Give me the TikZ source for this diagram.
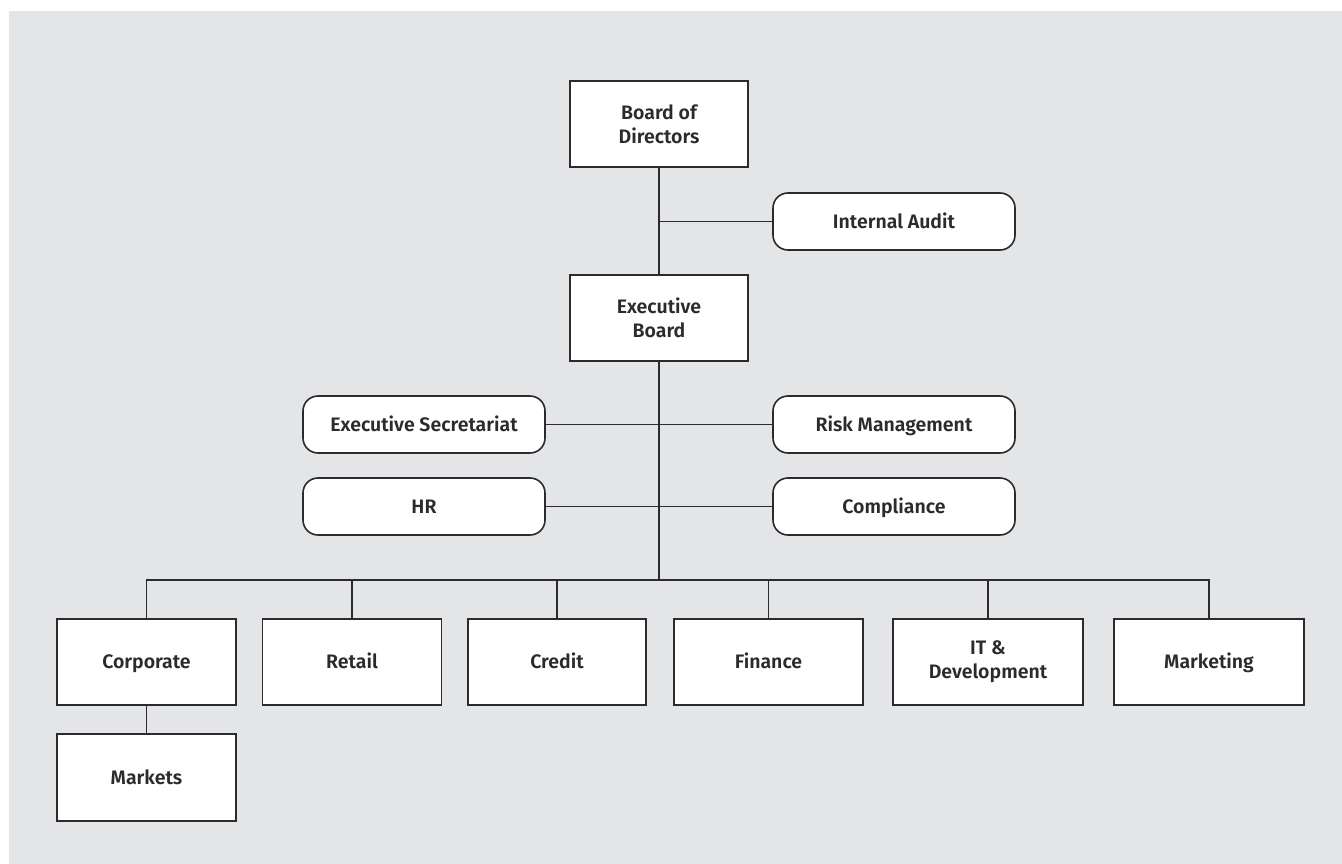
\documentclass[tikz,border=0pt]{standalone}
\usepackage{fontspec}
\setmainfont{Fira Sans}[BoldFont={Fira Sans SemiBold}]
\definecolor{bgc}{RGB}{228,229,231}
\definecolor{ink}{RGB}{43,43,45}
\tikzset{
  unit/.style={draw=ink, line width=1.6pt, fill=white, text=ink, font=\fontsize{19.5}{24}\selectfont\bfseries, align=center, inner sep=0pt},
  sqbox/.style={unit, rectangle, minimum height=86pt},
  oneline/.style={text height=13.4pt, text depth=0pt},
  rbox/.style={unit, oneline, rectangle, rounded corners=15pt, minimum width=242pt, minimum height=57pt},
  link/.style={draw=ink, line width=1.6pt}
}
\begin{document}
\begin{tikzpicture}[x=1pt,y=-1pt]
\useasboundingbox (0,0) rectangle (1342,864);
\fill[bgc] (9,11) rectangle (1342,864);
\node[sqbox, minimum width=178pt] (bod) at (659,124) {Board of\\Directors};
\node[sqbox, minimum width=178pt] (eb) at (659,318) {Executive\\Board};
\node[rbox] (ia) at (894,221.5) {Internal Audit};
\node[rbox] (es) at (424,424.5) {Executive Secretariat};
\node[rbox] (rm) at (894,424.5) {Risk Management};
\node[rbox] (hr) at (424,506.5) {HR};
\node[rbox] (co) at (894,506.5) {Compliance};
\node[sqbox, oneline, minimum width=179pt] (corp) at (146.5,662) {Corporate};
\node[sqbox, oneline, minimum width=179pt] (ret) at (352,662) {Retail};
\node[sqbox, oneline, minimum width=178pt] (cred) at (557,662) {Credit};
\node[sqbox, oneline, minimum width=189pt] (fin) at (768.5,662) {Finance};
\node[sqbox, minimum width=190pt] (it) at (988,662) {IT \&\\Development};
\node[sqbox, oneline, minimum width=190pt] (mkt) at (1209,662) {Marketing};
\node[sqbox, oneline, minimum width=179pt, minimum height=87pt] (mar) at (146.5,777.5) {Markets};
\coordinate (bus) at (659,580);
\draw[link] (bod.south) -- (eb.north);
\draw[link] (bod.south |- ia.west) -- (ia.west);
\draw[link] (eb.south) -- (bus);
\draw[link] (es.east) -- (rm.west);
\draw[link] (hr.east) -- (co.west);
\draw[link] (corp.north) |- (mkt.north |- bus) -- (mkt.north);
\draw[link] (ret.north) -- (ret.north |- bus);
\draw[link] (cred.north) -- (cred.north |- bus);
\draw[link] (fin.north) -- (fin.north |- bus);
\draw[link] (it.north) -- (it.north |- bus);
\draw[link] (corp.south) -- (mar.north);
\end{tikzpicture}
\end{document}
